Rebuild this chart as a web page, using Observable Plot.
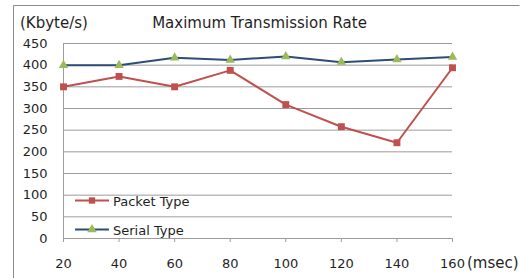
<!DOCTYPE html>
<html>
<head>
<meta charset="utf-8">
<script src="https://cdn.jsdelivr.net/npm/d3@7"></script>
<script src="https://cdn.jsdelivr.net/npm/@observablehq/plot@0.6"></script>
<style>
  html, body { margin: 0; padding: 0; background: #fff; }
  svg { display: block; }
</style>
</head>
<body>
<div id="chart"></div>
<script>
const times = [20, 40, 60, 80, 100, 120, 140, 160];
const packetType = [350, 374, 350, 388, 309, 258, 221, 394];
const serialType = [400, 400, 417, 412, 420, 407, 413, 419];
const yTicks = [0, 50, 100, 150, 200, 250, 300, 350, 400, 450];
const seriesNames = ["Packet Type", "Serial Type"];
const title = "Maximum Transmission Rate";
const yLabel = "(Kbyte/s)";
const xLabel = "(msec)";

const packet = times.map((t, i) => ({t, v: packetType[i]}));
const serial = times.map((t, i) => ({t, v: serialType[i]}));

const font = "DejaVu Sans, sans-serif";
const red = "#C0504D", blue = "#2C4D75", green = "#9BBB59", grid = "#9c9c9c", ink = "#1f1f1f";

const svg = Plot.plot({
  width: 520,
  height: 278,
  marginLeft: 63,
  marginRight: 68,
  marginTop: 43,
  marginBottom: 40,
  style: {fontFamily: font, fontSize: "13px", color: ink, background: "#fff"},
  x: {domain: [20, 160]},
  y: {domain: [0, 450]},
  marks: [
    Plot.gridY(yTicks.filter(d => d > 0), {stroke: grid, strokeOpacity: 1}),
    Plot.ruleY([0], {stroke: grid}),
    Plot.ruleX([20], {y1: 0, y2: 450, stroke: grid}),
    Plot.axisY(yTicks, {tickSize: 0, tickPadding: 16, fontSize: 13, fill: ink, label: null}),
    Plot.axisX(times, {tickSize: 4, stroke: grid, tickPadding: 16, fontSize: 13, fill: ink, label: null}),
    Plot.line(serial, {x: "t", y: "v", stroke: blue, strokeWidth: 2}),
    Plot.dot(serial, {x: "t", y: "v", symbol: "triangle", r: 3.5, fill: green, stroke: "none"}),
    Plot.line(packet, {x: "t", y: "v", stroke: red, strokeWidth: 2}),
    Plot.dot(packet, {x: "t", y: "v", symbol: "square", r: 3.9, fill: red, stroke: "none"})
  ]
});

const s = d3.select(svg);
// outer border
s.append("path").attr("d", "M13.5,278V5.5H519.5").attr("fill", "none").attr("stroke", "#8a8a8a");
const addText = (txt, x, y, size, anchor) =>
  s.append("text").text(txt).attr("x", x).attr("y", y).attr("text-anchor", anchor)
    .attr("font-family", font).attr("font-size", size).attr("fill", ink);
addText(title, 259.5, 28, 15, "middle");
addText(yLabel, 20, 28, 15, "start");
addText(xLabel, 467, 268, 15, "start");

// legend
const leg = [
  {name: seriesNames[0], stroke: red, fill: red, sym: d3.symbolSquare, y: 200.5},
  {name: seriesNames[1], stroke: blue, fill: green, sym: d3.symbolTriangle, y: 229.5}
];
leg.forEach(l => {
  const g = s.append("g");
  g.append("line").attr("x1", 75).attr("x2", 109).attr("y1", l.y).attr("y2", l.y)
    .attr("stroke", l.stroke).attr("stroke-width", 2);
  g.append("path").attr("d", d3.symbol(l.sym, 40)()).attr("transform", `translate(92,${l.y})`).attr("fill", l.fill);
  g.append("text").text(l.name).attr("x", 113).attr("y", l.y + 5).attr("text-anchor", "start")
    .attr("font-family", font).attr("font-size", 13).attr("fill", ink);
});

document.getElementById("chart").appendChild(svg);
</script>
</body>
</html>
